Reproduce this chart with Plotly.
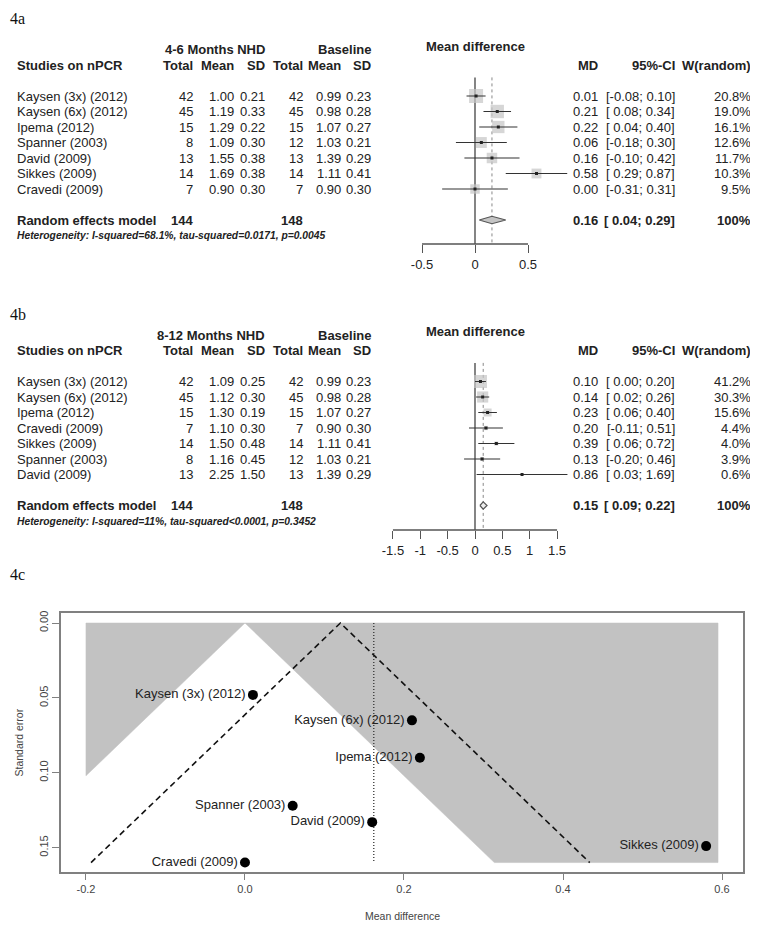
import plotly.graph_objects as go

# page is 758x927; the html body adds an 8px margin, so the figure itself is 750x919
PAGE_OFF = 8
W, H = 750, 919

# ---------------- data: 4a (4-6 months NHD vs baseline) ----------------
studies_a = ["Kaysen (3x) (2012)", "Kaysen (6x) (2012)", "Ipema (2012)", "Spanner (2003)",
             "David (2009)", "Sikkes (2009)", "Cravedi (2009)"]
n_nhd_a = [42, 45, 15, 8, 13, 14, 7]
mean_nhd_a = [1.00, 1.19, 1.29, 1.09, 1.55, 1.69, 0.90]
sd_nhd_a = [0.21, 0.33, 0.22, 0.30, 0.38, 0.38, 0.30]
n_base_a = [42, 45, 15, 12, 13, 14, 7]
mean_base_a = [0.99, 0.98, 1.07, 1.03, 1.39, 1.11, 0.90]
sd_base_a = [0.23, 0.28, 0.27, 0.21, 0.29, 0.41, 0.30]
md_a = [0.01, 0.21, 0.22, 0.06, 0.16, 0.58, 0.00]
lo_a = [-0.08, 0.08, 0.04, -0.18, -0.10, 0.29, -0.31]
hi_a = [0.10, 0.34, 0.40, 0.30, 0.42, 0.87, 0.31]
w_a = [20.8, 19.0, 16.1, 12.6, 11.7, 10.3, 9.5]
summary_a = dict(md=0.16, lo=0.04, hi=0.29, n1=144, n2=148)
het_a = "Heterogeneity: I-squared=68.1%, tau-squared=0.0171, p=0.0045"
ticks_a = [-0.5, 0, 0.5]
ticklabels_a = ["-0.5", "0", "0.5"]

# ---------------- data: 4b (8-12 months NHD vs baseline) ----------------
studies_b = ["Kaysen (3x) (2012)", "Kaysen (6x) (2012)", "Ipema (2012)", "Cravedi (2009)",
             "Sikkes (2009)", "Spanner (2003)", "David (2009)"]
n_nhd_b = [42, 45, 15, 7, 14, 8, 13]
mean_nhd_b = [1.09, 1.12, 1.30, 1.10, 1.50, 1.16, 2.25]
sd_nhd_b = [0.25, 0.30, 0.19, 0.30, 0.48, 0.45, 1.50]
n_base_b = [42, 45, 15, 7, 14, 12, 13]
mean_base_b = [0.99, 0.98, 1.07, 0.90, 1.11, 1.03, 1.39]
sd_base_b = [0.23, 0.28, 0.27, 0.30, 0.41, 0.21, 0.29]
md_b = [0.10, 0.14, 0.23, 0.20, 0.39, 0.13, 0.86]
lo_b = [0.00, 0.02, 0.06, -0.11, 0.06, -0.20, 0.03]
hi_b = [0.20, 0.26, 0.40, 0.51, 0.72, 0.46, 1.69]
w_b = [41.2, 30.3, 15.6, 4.4, 4.0, 3.9, 0.6]
summary_b = dict(md=0.15, lo=0.09, hi=0.22, n1=144, n2=148)
het_b = "Heterogeneity: I-squared=11%, tau-squared<0.0001, p=0.3452"
ticks_b = [-1.5, -1, -0.5, 0, 0.5, 1, 1.5]
ticklabels_b = ["-1.5", "-1", "-0.5", "0", "0.5", "1", "1.5"]

# ---------------- data: 4c funnel plot ----------------
funnel_studies = ["Kaysen (3x) (2012)", "Kaysen (6x) (2012)", "Ipema (2012)", "Spanner (2003)",
                  "David (2009)", "Sikkes (2009)", "Cravedi (2009)"]
funnel_md = [0.01, 0.21, 0.22, 0.06, 0.16, 0.58, 0.00]
funnel_se = [0.048, 0.065, 0.090, 0.122, 0.133, 0.149, 0.160]
fixed_center = 0.12
random_center = 0.162
contour_z = 1.96
contour_x_limits = [-0.2, 0.595]
funnel_xticks = [-0.2, 0.0, 0.2, 0.4, 0.6]
funnel_xticklabels = ["-0.2", "0.0", "0.2", "0.4", "0.6"]
funnel_yticks = [0.00, 0.05, 0.10, 0.15]
funnel_yticklabels = ["0.00", "0.05", "0.10", "0.15"]

FONT = "Liberation Sans, Arial, sans-serif"
TXT = "#222222"

fig = go.Figure()
annotations = []
shapes = []


def fx(p):
    """page pixel x -> paper fraction"""
    return (p - PAGE_OFF) / W


def fy(p):
    """page pixel y -> paper fraction"""
    return 1 - (p - PAGE_OFF) / H


def ann(text, x, y, xref, yref, xanchor="left", size=13, bold=False, color=TXT, **kw):
    if bold:
        text = "<b>%s</b>" % text
    annotations.append(dict(text=text, x=x, y=y, xref=xref, yref=yref, xanchor=xanchor,
                            yanchor="middle", showarrow=False,
                            font=dict(family=FONT, size=size, color=color), **kw))


COLS = [195, 236, 267, 305, 343, 373]


def forest(idx, names, n1, m1, s1, n2, m2, s2, md, lo, hi, w, summ, het, ticks, ticklabels,
           group_title, x0px, xscale, xr, row1_px, axis_px, top_px, box_max, diamond_fill):
    row_h = 15.5
    xa = "x" if idx == 1 else "x%d" % idx
    ya = "y" if idx == 1 else "y%d" % idx
    xkey = "xaxis" if idx == 1 else "xaxis%d" % idx
    ykey = "yaxis" if idx == 1 else "yaxis%d" % idx
    r_bottom = 1 + (axis_px - row1_px) / row_h
    r_top = 1 + (top_px - row1_px) / row_h
    rows = list(range(1, len(names) + 1))
    srow = len(names) + 2
    hrow = srow + 1

    fig.update_layout(**{
        xkey: dict(domain=[fx(x0px + xr[0] * xscale), fx(x0px + xr[1] * xscale)], range=xr,
                   anchor=ya, showgrid=False, zeroline=False, showline=False,
                   tickvals=ticks, ticktext=ticklabels, ticks="outside", ticklen=8,
                   tickwidth=1.3, tickcolor="#555", automargin=False,
                   tickfont=dict(family=FONT, size=13, color=TXT)),
        ykey: dict(domain=[fy(axis_px), fy(top_px)], range=[r_bottom, r_top], anchor=xa,
                   visible=False, automargin=False),
    })
    # axis base line
    shapes.append(dict(type="line", xref=xa, yref=ya + " domain", x0=ticks[0], x1=ticks[-1],
                       y0=0, y1=0, line=dict(color="#555", width=1.3)))
    # reference line at zero and dotted summary line
    fig.add_trace(go.Scatter(x=[0, 0], y=[-0.2, r_bottom], mode="lines", xaxis=xa, yaxis=ya,
                             line=dict(color="#666", width=1.6), hoverinfo="skip"))
    fig.add_trace(go.Scatter(x=[summ["md"], summ["md"]], y=[-0.2, r_bottom], mode="lines",
                             xaxis=xa, yaxis=ya, line=dict(color="#888", width=1, dash="dot"),
                             hoverinfo="skip"))
    # weight boxes
    wmax = max(w)
    fig.add_trace(go.Scatter(x=md, y=rows, mode="markers", xaxis=xa, yaxis=ya,
                             marker=dict(symbol="square", color="#c4c4c4",
                                         size=[box_max * (v / wmax) ** 0.5 for v in w],
                                         line=dict(width=0)),
                             cliponaxis=False, hoverinfo="skip"))
    # CI lines
    cx, cy = [], []
    for l, h, r in zip(lo, hi, rows):
        cx += [l, h, None]
        cy += [r, r, None]
    fig.add_trace(go.Scatter(x=cx, y=cy, mode="lines", xaxis=xa, yaxis=ya,
                             line=dict(color="#333", width=1.2), hoverinfo="skip"))
    fig.add_trace(go.Scatter(x=md, y=rows, mode="markers", xaxis=xa, yaxis=ya,
                             marker=dict(symbol="square", color="#222", size=3),
                             cliponaxis=False, hoverinfo="skip"))
    # summary diamond
    dh = 0.24
    fig.add_trace(go.Scatter(x=[summ["lo"], summ["md"], summ["hi"], summ["md"], summ["lo"]],
                             y=[srow, srow - dh, srow, srow + dh, srow], mode="lines",
                             fill="toself", fillcolor=diamond_fill, xaxis=xa, yaxis=ya,
                             line=dict(color="#555", width=1.2), hoverinfo="skip"))

    # ---- table text ----
    ann(group_title, fx(267), -2, "paper", ya, xanchor="right", bold=True)
    ann("Baseline", fx(373), -2, "paper", ya, xanchor="right", bold=True)
    ann("Studies on nPCR", fx(15), -1, "paper", ya, bold=True)
    for lab, px in zip(["Total", "Mean", "SD", "Total", "Mean", "SD"], COLS):
        ann(lab, fx(px), -1, "paper", ya, xanchor="right", bold=True)
    ann("Mean difference", 0, -2.2, xa, ya, xanchor="center", bold=True)
    ann("MD", fx(600), -1, "paper", ya, xanchor="right", bold=True)
    ann("95%-CI", fx(677), -1, "paper", ya, xanchor="right", bold=True)
    ann("W(random)", fx(753), -1, "paper", ya, xanchor="right", bold=True)
    for i, r in enumerate(rows):
        ann(names[i], fx(15), r, "paper", ya)
        vals = ["%d" % n1[i], "%.2f" % m1[i], "%.2f" % s1[i],
                "%d" % n2[i], "%.2f" % m2[i], "%.2f" % s2[i]]
        for v, px in zip(vals, COLS):
            ann(v, fx(px), r, "paper", ya, xanchor="right")
        ann("%.2f" % md[i], fx(600), r, "paper", ya, xanchor="right")
        ci = "[%s; %.2f]" % (("%.2f" % lo[i]) if lo[i] < 0 else ("\u00a0%.2f" % lo[i]), hi[i])
        ann(ci, fx(677), r, "paper", ya, xanchor="right")
        ann("%.1f%%" % w[i], fx(753), r, "paper", ya, xanchor="right")
    ann("Random effects model", fx(15), srow, "paper", ya, bold=True)
    ann("%d" % summ["n1"], fx(195), srow, "paper", ya, xanchor="right", bold=True)
    ann("%d" % summ["n2"], fx(305), srow, "paper", ya, xanchor="right", bold=True)
    ann("%.2f" % summ["md"], fx(600), srow, "paper", ya, xanchor="right", bold=True)
    ann("[\u00a0%.2f; %.2f]" % (summ["lo"], summ["hi"]), fx(677), srow, "paper", ya,
        xanchor="right", bold=True)
    ann("100%", fx(753), srow, "paper", ya, xanchor="right", bold=True)
    ann("<b><i>%s</i></b>" % het, fx(15), hrow, "paper", ya, size=10.3)


forest(1, studies_a, n_nhd_a, mean_nhd_a, sd_nhd_a, n_base_a, mean_base_a, sd_base_a,
       md_a, lo_a, hi_a, w_a, summary_a, het_a, ticks_a, ticklabels_a, "4-6 Months NHD",
       x0px=475, xscale=106, xr=[-0.6, 0.95], row1_px=96, axis_px=244, top_px=30,
       box_max=14, diamond_fill="#c4c4c4")
forest(2, studies_b, n_nhd_b, mean_nhd_b, sd_nhd_b, n_base_b, mean_base_b, sd_base_b,
       md_b, lo_b, hi_b, w_b, summary_b, het_b, ticks_b, ticklabels_b, "8-12 Months NHD",
       x0px=475, xscale=54.7, xr=[-1.6, 1.8], row1_px=381.5, axis_px=530, top_px=318,
       box_max=13, diamond_fill="#ececec")

# ---------------- 4c funnel ----------------
se_max = max(funnel_se)
xl, xh = contour_x_limits
GRAY = "#c2c2c2"
# shaded (significant) regions outside the funnel centred on zero
fig.add_trace(go.Scatter(x=[xl, 0, xl, xl], y=[0, 0, -xl / contour_z, 0], mode="lines",
                         fill="toself", fillcolor=GRAY, line=dict(width=0.5, color=GRAY),
                         xaxis="x3", yaxis="y3", hoverinfo="skip"))
fig.add_trace(go.Scatter(x=[0, xh, xh, contour_z * se_max, 0], y=[0, 0, se_max, se_max, 0],
                         mode="lines", fill="toself", fillcolor=GRAY,
                         line=dict(width=0.5, color=GRAY),
                         xaxis="x3", yaxis="y3", hoverinfo="skip"))
fig.add_trace(go.Scatter(x=[fixed_center - contour_z * se_max, fixed_center,
                            fixed_center + contour_z * se_max],
                         y=[se_max, 0, se_max], mode="lines",
                         line=dict(color="#111", width=1.6, dash="6px,4px"),
                         xaxis="x3", yaxis="y3", hoverinfo="skip"))
fig.add_trace(go.Scatter(x=[random_center, random_center], y=[0, se_max], mode="lines",
                         line=dict(color="#333", width=1.3, dash="1px,2px"),
                         xaxis="x3", yaxis="y3", hoverinfo="skip"))
fig.add_trace(go.Scatter(x=funnel_md, y=funnel_se, mode="markers+text", text=funnel_studies,
                         textposition="middle left",
                         textfont=dict(family=FONT, size=13, color=TXT),
                         marker=dict(color="black", size=10),
                         xaxis="x3", yaxis="y3", cliponaxis=False, hoverinfo="skip"))

fig.update_layout(
    xaxis3=dict(domain=[fx(61), fx(743)], range=[-0.2314, 0.6264], anchor="y3",
                showgrid=False, zeroline=False, showline=True, mirror=True,
                linecolor="#808080", linewidth=1.5, ticks="outside", ticklen=6,
                tickcolor="#808080", tickvals=funnel_xticks, ticktext=funnel_xticklabels,
                automargin=False, tickfont=dict(family=FONT, size=11, color="#444")),
    yaxis3=dict(domain=[fy(872), fy(613)], range=[0.1663, -0.0067], anchor="x3",
                showgrid=False, zeroline=False, showline=True, mirror=True,
                linecolor="#808080", linewidth=1.5, ticks="outside", ticklen=7,
                tickcolor="#808080", tickvals=funnel_yticks, ticktext=funnel_yticklabels,
                tickangle=-90, automargin=False,
                tickfont=dict(family=FONT, size=11, color="#444")),
)
ann("Standard error", fx(18), (fy(872) + fy(613)) / 2, "paper", "paper", xanchor="center",
    size=10.5, color="#444", textangle=-90)
ann("Mean difference", fx(402), fy(916), "paper", "paper", xanchor="center", size=10.5,
    color="#444")

# panel labels
for lab, ypx in [("4a", 8), ("4b", 304), ("4c", 564)]:
    annotations.append(dict(text=lab, x=fx(8), y=fy(ypx), xref="paper", yref="paper",
                            xanchor="left", yanchor="top", showarrow=False,
                            font=dict(family="Liberation Serif, Times New Roman, serif",
                                      size=16, color="#111")))

fig.update_layout(width=W, height=H, margin=dict(l=0, r=0, t=0, b=0, pad=0),
                  paper_bgcolor="white", plot_bgcolor="white", showlegend=False,
                  font=dict(family=FONT, color=TXT),
                  annotations=annotations, shapes=shapes)

fig.write_html("out.html")
